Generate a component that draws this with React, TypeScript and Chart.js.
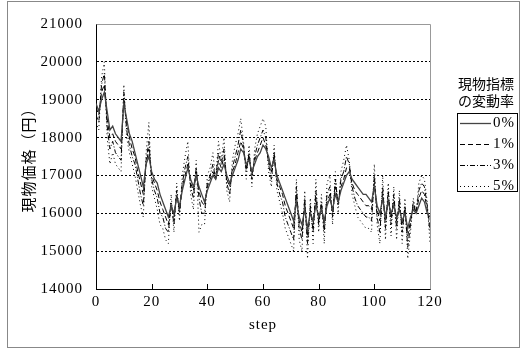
import React, { useEffect, useRef } from "react";
import { Chart, registerables } from "chart.js";

Chart.register(...registerables);

const steps: number[] = Array.from({ length: 121 }, (_, i) => i);

const seriesLabels = ["0%", "1%", "3%", "5%"];

const s0: number[] = [
  18900, 18700, 19000, 19200, 18700, 18200, 18300, 18100, 18000, 17900,
  18900, 18500, 18100, 17900, 17600, 17300, 17000, 16700, 17300, 17500,
  17100, 16900, 16800, 16500, 16300, 16100, 15900, 16200, 16000, 16400,
  16200, 16600, 16900, 17200, 16900, 16700, 17000, 16700, 16500, 16300,
  16600, 16800, 17000, 16900, 17200, 17100, 17300, 17000, 16800, 17000,
  17200, 17400, 17700, 17600, 17300, 17400, 17100, 17300, 17500, 17600,
  17800, 17700, 17500, 17200, 17400, 17000, 16800, 16600, 16400, 16200,
  16000, 15800, 16300, 15900, 15700, 16100, 15600, 16000, 15800, 16200,
  15900, 16100, 15800, 16200, 16400, 16100, 16500, 16300, 16600, 16800,
  17000, 17100, 16900, 16800, 16700, 16600, 16500, 16500, 16400, 16300,
  16700, 16200, 16000, 16400, 15900, 16300, 16000, 16200, 15900, 16100,
  15800, 16000, 15600, 15900, 16100, 16000, 16200, 16400, 16300, 16000,
  15900,
];

const s1: number[] = [
  18800, 18600, 19200, 19400, 18500, 18000, 18100, 17900, 17800, 17700,
  19000, 18400, 18000, 17700, 17500, 17100, 16800, 16500, 17300, 17700,
  17000, 16800, 16600, 16300, 16100, 15900, 15700, 16200, 15900, 16500,
  16100, 16700, 17000, 17300, 16800, 16600, 17100, 16600, 16300, 16200,
  16700, 16900, 17100, 16900, 17400, 17200, 17500, 16900, 16700, 17100,
  17300, 17600, 17900, 17700, 17200, 17500, 17000, 17400, 17600, 17800,
  18000, 17800, 17400, 17100, 17500, 16900, 16700, 16500, 16200, 16000,
  15800, 15600, 16500, 15800, 15500, 16200, 15400, 16100, 15700, 16400,
  15800, 16200, 15700, 16300, 16500, 16000, 16700, 16300, 16700, 16900,
  17200, 17200, 16800, 16600, 16500, 16400, 16300, 16200, 16200, 16100,
  16800, 16100, 15800, 16500, 15800, 16400, 15900, 16300, 15800, 16200,
  15700, 16100, 15400, 15800, 16200, 16000, 16400, 16600, 16500, 16100,
  15700,
];

const s3: number[] = [
  18600, 18400, 19400, 19700, 18300, 17700, 17900, 17600, 17500, 17400,
  19200, 18200, 17800, 17500, 17300, 16900, 16500, 16200, 17400, 17900,
  16900, 16600, 16400, 16000, 15900, 15600, 15500, 16300, 15700, 16600,
  16000, 16800, 17200, 17500, 16700, 16400, 17200, 16400, 16000, 16000,
  16800, 17000, 17300, 16900, 17600, 17300, 17700, 16800, 16500, 17200,
  17500, 17800, 18200, 17800, 17100, 17600, 16900, 17500, 17800, 18000,
  18200, 18000, 17300, 16900, 17600, 16800, 16500, 16300, 15900, 15700,
  15500, 15300, 16700, 15600, 15300, 16400, 15200, 16200, 15500, 16600,
  15700, 16300, 15500, 16500, 16700, 15900, 16900, 16200, 16900, 17100,
  17500, 17300, 16700, 16400, 16200, 16100, 16000, 15900, 15900, 15800,
  17000, 15900, 15500, 16700, 15600, 16600, 15700, 16500, 15600, 16400,
  15500, 16200, 15100, 15700, 16300, 16000, 16600, 16800, 16700, 16200,
  15500,
];

const s5: number[] = [
  18400, 18200, 19600, 20000, 18000, 17300, 17600, 17300, 17200, 17100,
  19400, 18000, 17600, 17300, 17000, 16600, 16200, 15900, 17600, 18400,
  16700, 16400, 16100, 15700, 15600, 15300, 15200, 16500, 15500, 16800,
  15800, 17000, 17500, 17900, 16500, 16100, 17400, 15500, 15700, 15700,
  17000, 17200, 17600, 16900, 17900, 17400, 18000, 16600, 16300, 17400,
  17800, 18100, 18500, 17900, 16900, 17800, 16700, 17700, 18100, 18300,
  18500, 18300, 17100, 16700, 17800, 16600, 16300, 16000, 15600, 15400,
  15200, 15000, 16900, 15300, 15000, 16600, 14800, 16400, 15200, 16900,
  15500, 16500, 15200, 16800, 17000, 15700, 17100, 16000, 17100, 17400,
  17800, 17400, 16500, 16200, 15900, 15800, 15700, 15600, 15600, 15500,
  17300, 15700, 15200, 17000, 15300, 16800, 15400, 16700, 15300, 16600,
  15200, 16400, 14800, 15500, 16400, 16000, 16800, 17000, 16900, 16300,
  15200,
];

const seriesValues = [s0, s1, s3, s5];
const seriesColors = ["#444444", "#000000", "#000000", "#000000"];
const seriesWidths = [1.3, 1, 1, 1];
const seriesDashes: number[][] = [[], [5, 3], [5, 2, 1, 2], [1, 3]];

const xTickMarks = [20, 40, 60, 80, 100];
const legendTitle = ["現物指標", "の変動率"];
const yTitle = "現物価格（円）";
const xTitle = "step";

const SERIF = "'Liberation Serif', 'DejaVu Serif', serif";
const CJK = "'Noto Sans CJK JP', sans-serif";

const spacingPlugin = {
  id: "spacing",
  beforeDraw(chart: any) {
    chart.ctx.save();
    (chart.ctx as any).letterSpacing = "1px";
  },
  afterDraw(chart: any) {
    chart.ctx.restore();
  },
};

const decorPlugin = {
  id: "decor",
  afterDraw(chart: any) {
    const ctx = chart.ctx as CanvasRenderingContext2D;
    const { left, right, top, bottom } = chart.chartArea;
    const xs = chart.scales.x;
    ctx.save();
    (ctx as any).letterSpacing = "0px";
    // top and right frame
    ctx.strokeStyle = "#999999";
    ctx.lineWidth = 1;
    ctx.setLineDash([]);
    ctx.beginPath();
    ctx.moveTo(Math.round(left) + 0.5, Math.round(top) + 0.5);
    ctx.lineTo(Math.round(right) + 0.5, Math.round(top) + 0.5);
    ctx.lineTo(Math.round(right) + 0.5, Math.round(bottom) + 0.5);
    ctx.stroke();
    // inner x tick marks
    ctx.strokeStyle = "#000000";
    ctx.beginPath();
    for (const v of xTickMarks) {
      const px = Math.round(xs.getPixelForValue(v)) + 0.5;
      ctx.moveTo(px, bottom);
      ctx.lineTo(px, bottom - 5);
    }
    ctx.stroke();
    // outer frame
    ctx.strokeStyle = "#888888";
    ctx.strokeRect(7.5, 1.5, 512, 346);

    // legend
    const boxL = 457, boxT = 113, boxW = 60, boxH = 78;
    ctx.fillStyle = "#000";
    ctx.font = `14px ${CJK}`;
    ctx.textAlign = "center";
    ctx.textBaseline = "middle";
    ctx.fillText(legendTitle[0], boxL + boxW / 2 - 1, 84);
    ctx.fillText(legendTitle[1], boxL + boxW / 2 - 1, 101);
    ctx.strokeStyle = "#000";
    ctx.lineWidth = 1;
    ctx.strokeRect(boxL + 0.5, boxT + 0.5, boxW, boxH);
    ctx.font = `15px ${SERIF}`;
    ctx.textAlign = "left";
    (ctx as any).letterSpacing = "1px";
    chart.data.datasets.forEach((ds: any, i: number) => {
      const y = Math.round(boxT + 10 + i * 21) + 0.5;
      ctx.save();
      ctx.strokeStyle = ds.borderColor;
      ctx.lineWidth = ds.borderWidth;
      ctx.setLineDash(ds.borderDash || []);
      ctx.beginPath();
      ctx.moveTo(boxL + 3, y);
      ctx.lineTo(boxL + 34, y);
      ctx.stroke();
      ctx.restore();
      ctx.fillText(ds.label, boxL + 36, y);
    });
    ctx.restore();
  },
};

export default function App() {
  const ref = useRef<HTMLCanvasElement | null>(null);
  useEffect(() => {
    if (!ref.current) return;
    const chart = new Chart(ref.current, {
      type: "line",
      data: {
        datasets: seriesValues.map((vals, k) => ({
          label: seriesLabels[k],
          data: steps.map((s, i) => ({ x: s, y: vals[i] })),
          borderColor: seriesColors[k],
          borderWidth: seriesWidths[k],
          borderDash: seriesDashes[k],
          pointRadius: 0,
          tension: 0,
          fill: false,
        })),
      },
      options: {
        animation: false,
        responsive: false,
        events: [],
        layout: { padding: { left: 0, top: 24, right: 92, bottom: 0 } },
        plugins: { legend: { display: false }, tooltip: { enabled: false } },
        scales: {
          x: {
            type: "linear",
            min: 0,
            max: 120,
            afterFit: (s: any) => {
              s.height = 61;
            },
            ticks: {
              stepSize: 20,
              color: "#000",
              font: { family: SERIF, size: 15 },
              padding: 4,
              maxRotation: 0,
              callback: (v: any) => String(v),
            },
            grid: { display: false, drawTicks: false },
            border: { display: true, color: "#000", width: 1 },
            title: {
              display: true,
              text: xTitle,
              color: "#000",
              font: { family: SERIF, size: 15 },
              padding: { top: 0, bottom: 16 },
            },
          },
          y: {
            type: "linear",
            min: 14000,
            max: 21000,
            afterFit: (s: any) => {
              s.width = 96;
            },
            ticks: {
              stepSize: 1000,
              color: "#000",
              font: { family: SERIF, size: 15 },
              padding: 13,
              callback: (v: any) => String(v),
            },
            grid: {
              drawTicks: false,
              tickLength: 0,
              color: (c: any) =>
                c.tick && (c.tick.value === 14000 || c.tick.value === 21000)
                  ? "rgba(0,0,0,0)"
                  : "#000",
              lineWidth: 1,
            },
            border: { display: true, color: "#000", width: 1, dash: [2, 2] },
            title: {
              display: true,
              text: yTitle,
              color: "#000",
              font: { family: CJK, size: 15 },
              padding: { top: 19, bottom: 0 },
            },
          },
        },
      },
      plugins: [spacingPlugin, decorPlugin],
    });
    return () => chart.destroy();
  }, []);
  return (
    <div style={{ position: "absolute", left: 0, top: 0, width: 522, height: 350, background: "#fff" }}>
      <canvas ref={ref} width={522} height={350} style={{ width: 522, height: 350, display: "block" }} />
    </div>
  );
}
